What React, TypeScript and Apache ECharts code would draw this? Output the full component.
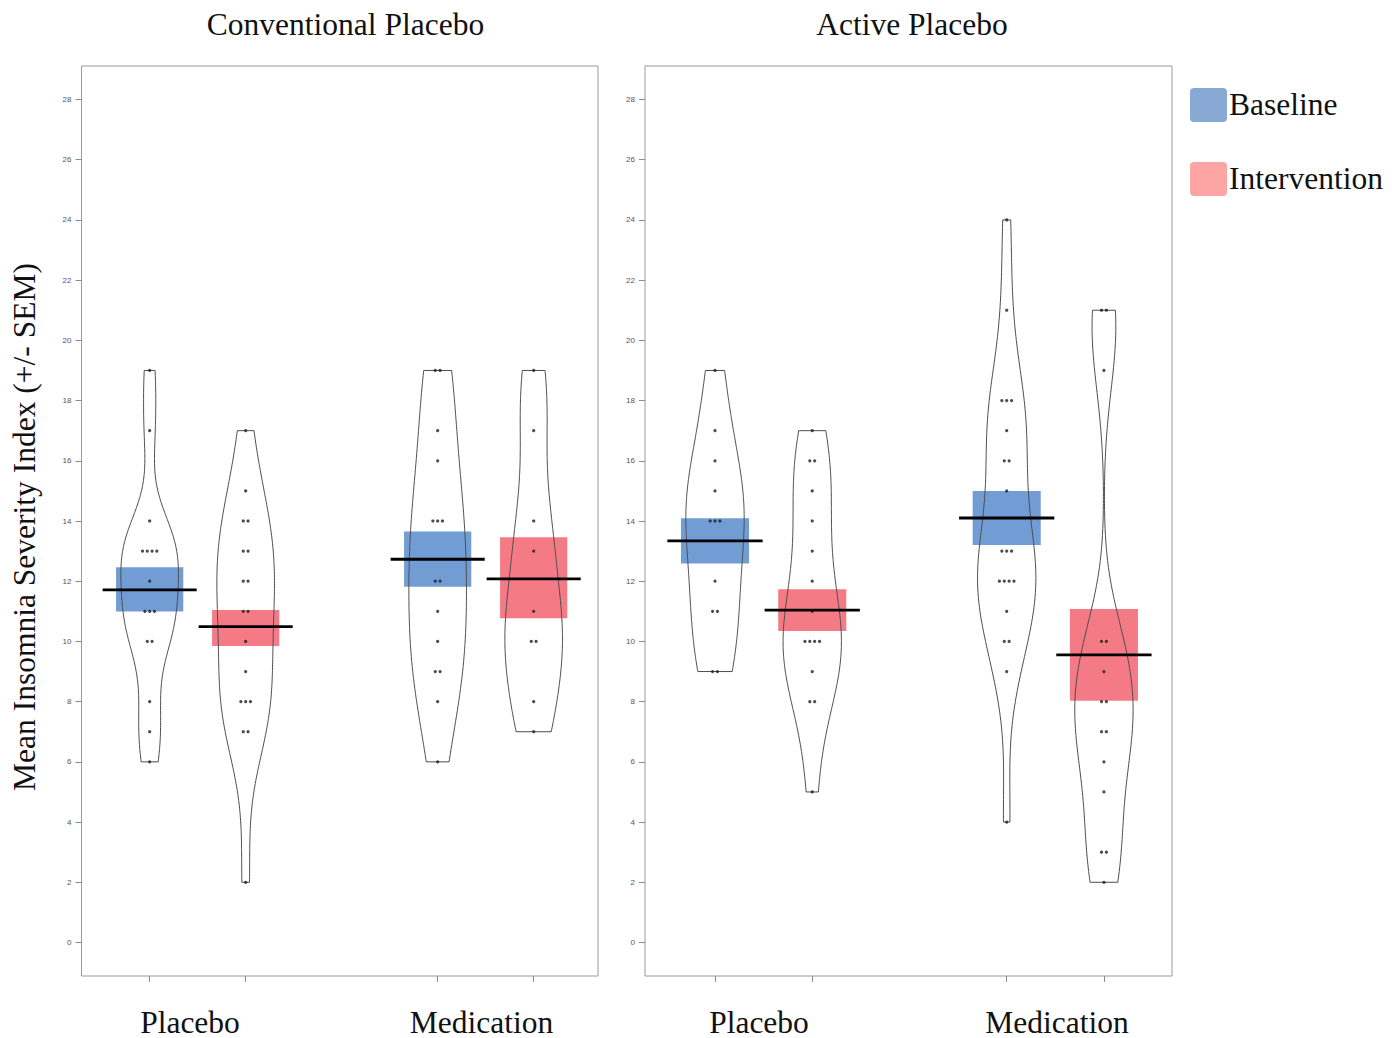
import React, { useEffect, useRef } from 'react';
import * as echarts from 'echarts';

// ---------- data ----------
const panelTitles = ['Conventional Placebo', 'Active Placebo'];
const groupLabels = ['Placebo', 'Medication'];
const conditionLabels = ['Baseline', 'Intervention'];
// bean order: Placebo-Baseline, Placebo-Intervention, Medication-Baseline, Medication-Intervention
const beanPositions = [1, 2, 4, 5];
const yTicks = [0, 2, 4, 6, 8, 10, 12, 14, 16, 18, 20, 22, 24, 26, 28];

const conventionalMeans = [11.71, 10.49, 12.73, 12.08];
const conventionalSemLow = [10.99, 9.85, 11.82, 10.77];
const conventionalSemHigh = [12.46, 11.04, 13.65, 13.46];

const activeMeans = [13.34, 11.04, 14.1, 9.55];
const activeSemLow = [12.59, 10.35, 13.2, 8.03];
const activeSemHigh = [14.09, 11.73, 15.0, 11.08];

const convPlaceboBaseline = [19, 17, 14, 13, 13, 13, 13, 12, 11, 11, 11, 10, 10, 8, 7, 6];
const convPlaceboIntervention = [17, 15, 14, 14, 13, 13, 12, 12, 11, 11, 10, 9, 8, 8, 8, 7, 7, 2];
const convMedicationBaseline = [19, 19, 17, 16, 14, 14, 14, 12, 12, 11, 10, 9, 9, 8, 6];
const convMedicationIntervention = [19, 17, 14, 13, 11, 10, 10, 8, 7];
const activePlaceboBaseline = [19, 17, 16, 15, 14, 14, 14, 12, 11, 11, 9, 9];
const activePlaceboIntervention = [17, 16, 16, 15, 14, 13, 12, 11, 10, 10, 10, 10, 9, 8, 8, 5];
const activeMedicationBaseline = [24, 21, 18, 18, 18, 17, 16, 16, 15, 13, 13, 13, 12, 12, 12, 12, 11, 10, 10, 9, 4];
const activeMedicationIntervention = [21, 21, 19, 10, 10, 9, 8, 8, 7, 7, 6, 5, 3, 3, 2];

// ---------- layout / style ----------
const SERIF = '"Liberation Serif", "Times New Roman", serif';
const BAR_BLUE = '#729dd4';
const BAR_RED = '#f47b86';
const LEG_BLUE = '#89a9d5';
const LEG_RED = '#fda5a5';

const panels = [
  {
    means: conventionalMeans, low: conventionalSemLow, high: conventionalSemHigh,
    points: [convPlaceboBaseline, convPlaceboIntervention, convMedicationBaseline, convMedicationIntervention],
    grid: { left: 81.5, top: 66, width: 516.5, height: 910 },
    xMin: 0.29, xMax: 5.67,
  },
  {
    means: activeMeans, low: activeSemLow, high: activeSemHigh,
    points: [activePlaceboBaseline, activePlaceboIntervention, activeMedicationBaseline, activeMedicationIntervention],
    grid: { left: 645, top: 66, width: 527, height: 910 },
    xMin: 0.28, xMax: 5.70,
  },
];
const Y_MIN = -1.113;
const Y_MAX = 29.113;

// ---------- helpers ----------
function quantile7(sorted: number[], p: number) {
  const h = (sorted.length - 1) * p;
  const lo = Math.floor(h);
  const hi = Math.min(lo + 1, sorted.length - 1);
  return sorted[lo] + (h - lo) * (sorted[hi] - sorted[lo]);
}
function bwNrd0(vals: number[]) {
  const n = vals.length;
  const mean = vals.reduce((a, b) => a + b, 0) / n;
  const sd = Math.sqrt(vals.reduce((a, b) => a + (b - mean) * (b - mean), 0) / (n - 1));
  const s = [...vals].sort((a, b) => a - b);
  const iqr = quantile7(s, 0.75) - quantile7(s, 0.25);
  let lo = Math.min(sd, iqr / 1.34);
  if (!(lo > 0)) lo = sd || Math.abs(s[0]) || 1;
  return 0.9 * lo * Math.pow(n, -0.2);
}
// violin outline (in data units) from a gaussian kernel density, cut at data range
function beanOutline(vals: number[], center: number, halfMax: number) {
  const bw = bwNrd0(vals);
  const mn = Math.min(...vals);
  const mx = Math.max(...vals);
  const dens = (y: number) => vals.reduce((a, v) => a + Math.exp(-0.5 * ((y - v) / bw) ** 2), 0);
  let dmax = 0;
  for (let k = 0; k <= 400; k++) {
    const y = mn - 3 * bw + (k / 400) * (mx - mn + 6 * bw);
    dmax = Math.max(dmax, dens(y));
  }
  const steps = 160;
  const left: number[][] = [];
  const right: number[][] = [];
  for (let k = 0; k <= steps; k++) {
    const y = mn + (k / steps) * (mx - mn);
    const w = (dens(y) / dmax) * halfMax;
    left.push([center - w, y]);
    right.push([center + w, y]);
  }
  return left.concat(right.reverse());
}

function jitter(vals: number[], center: number) {
  const counts: Record<string, number> = {};
  vals.forEach((v) => { counts[v] = (counts[v] || 0) + 1; });
  const seen: Record<string, number> = {};
  return vals.map((v) => {
    const k = seen[v] || 0;
    seen[v] = k + 1;
    const off = (k - (counts[v] - 1) / 2) * 0.05;
    return [center + off, v];
  });
}

function buildOption() {
  const grid: any[] = [];
  const xAxis: any[] = [];
  const yAxis: any[] = [];
  const series: any[] = [];

  panels.forEach((p, pi) => {
    grid.push({ ...p.grid, show: true, borderColor: '#9a9a9a', borderWidth: 1, containLabel: false });
    xAxis.push({
      type: 'value', gridIndex: pi, min: p.xMin, max: p.xMax, position: 'bottom',
      axisLine: { show: false, onZero: false },
      splitLine: { show: false },
      axisLabel: { show: false },
      axisTick: { show: true, inside: false, customValues: beanPositions, length: 6, lineStyle: { color: '#8a8a8a' } },
    });
    yAxis.push({
      type: 'value', gridIndex: pi, min: Y_MIN, max: Y_MAX, position: 'left',
      axisLine: { show: false, onZero: false },
      splitLine: { show: false },
      axisTick: { show: true, customValues: yTicks, length: 6, lineStyle: { color: '#8a8a8a' } },
      axisLabel: {
        show: true, customValues: yTicks, fontSize: 8, color: '#555', margin: 10,
        fontFamily: '"Liberation Sans", Arial, sans-serif',
      },
    });

    const beanData = beanPositions.map((x, i) => [x, p.means[i], p.low[i], p.high[i], i]);

    // SEM bars
    series.push({
      type: 'custom', xAxisIndex: pi, yAxisIndex: pi, z: 1,
      encode: { x: 0, y: 1 },
      data: beanData,
      renderItem: (params: any, api: any) => {
        const x = api.value(0);
        const lo = api.value(2);
        const hi = api.value(3);
        const i = api.value(4);
        const a = api.coord([x - 0.35, hi]);
        const b = api.coord([x + 0.35, lo]);
        return {
          type: 'rect',
          shape: { x: a[0], y: a[1], width: b[0] - a[0], height: b[1] - a[1] },
          style: { fill: i % 2 === 0 ? BAR_BLUE : BAR_RED },
        };
      },
    });

    // beans (violins)
    series.push({
      type: 'custom', xAxisIndex: pi, yAxisIndex: pi, z: 2,
      encode: { x: 0, y: 1 },
      data: beanData,
      renderItem: (params: any, api: any) => {
        const i = api.value(4);
        const outline = beanOutline(p.points[i], beanPositions[i], 0.3);
        return {
          type: 'polygon',
          shape: { points: outline.map((pt) => api.coord(pt)) },
          style: { fill: 'none', stroke: '#4d4d4d', lineWidth: 1 },
        };
      },
    });

    // raw points
    const pts: number[][] = [];
    p.points.forEach((vals, i) => { jitter(vals, beanPositions[i]).forEach((d) => pts.push(d)); });
    series.push({
      type: 'scatter', xAxisIndex: pi, yAxisIndex: pi, z: 3,
      symbol: 'circle', symbolSize: 3.2,
      itemStyle: { color: '#1e1e1e' },
      data: pts,
    });

    // mean lines
    series.push({
      type: 'custom', xAxisIndex: pi, yAxisIndex: pi, z: 4,
      encode: { x: 0, y: 1 },
      data: beanData,
      renderItem: (params: any, api: any) => {
        const x = api.value(0);
        const m = api.value(1);
        const a = api.coord([x - 0.49, m]);
        const b = api.coord([x + 0.49, m]);
        return {
          type: 'line',
          shape: { x1: a[0], y1: a[1], x2: b[0], y2: b[1] },
          style: { stroke: '#000', lineWidth: 2.8 },
        };
      },
    });
  });

  const textStyle = (extra: any) => ({ fontFamily: SERIF, fontSize: 31.5, fill: '#111', ...extra });
  const graphic: any[] = [
    { type: 'text', x: 345.5, y: 24, style: textStyle({ text: panelTitles[0], textAlign: 'center', textVerticalAlign: 'middle' }) },
    { type: 'text', x: 912, y: 24, style: textStyle({ text: panelTitles[1], textAlign: 'center', textVerticalAlign: 'middle' }) },
    { type: 'text', x: 190, y: 1022, style: textStyle({ text: groupLabels[0], textAlign: 'center', textVerticalAlign: 'middle' }) },
    { type: 'text', x: 481.5, y: 1022, style: textStyle({ text: groupLabels[1], textAlign: 'center', textVerticalAlign: 'middle' }) },
    { type: 'text', x: 759, y: 1022, style: textStyle({ text: groupLabels[0], textAlign: 'center', textVerticalAlign: 'middle' }) },
    { type: 'text', x: 1057, y: 1022, style: textStyle({ text: groupLabels[1], textAlign: 'center', textVerticalAlign: 'middle' }) },
    {
      type: 'text', x: 24, y: 527, rotation: Math.PI / 2,
      style: textStyle({ text: 'Mean Insomnia Severity Index (+/- SEM)', textAlign: 'center', textVerticalAlign: 'middle' }),
    },
    { type: 'rect', shape: { x: 1190, y: 88, width: 37, height: 34, r: 4 }, style: { fill: LEG_BLUE } },
    { type: 'rect', shape: { x: 1190, y: 162, width: 37, height: 34, r: 4 }, style: { fill: LEG_RED } },
    { type: 'text', x: 1229, y: 104, style: textStyle({ text: conditionLabels[0], textAlign: 'left', textVerticalAlign: 'middle' }) },
    { type: 'text', x: 1229, y: 178, style: textStyle({ text: conditionLabels[1], textAlign: 'left', textVerticalAlign: 'middle' }) },
  ];

  return {
    animation: false,
    backgroundColor: '#fff',
    grid, xAxis, yAxis, series, graphic,
  };
}

export default function App() {
  const ref = useRef<HTMLDivElement>(null);
  useEffect(() => {
    if (!ref.current) return;
    const chart = echarts.init(ref.current, null, { renderer: 'svg' });
    chart.setOption(buildOption() as any);
    return () => chart.dispose();
  }, []);
  return (
    <div
      ref={ref}
      style={{ position: 'fixed', left: 0, top: 0, width: 1400, height: 1038, background: '#fff' }}
    />
  );
}
